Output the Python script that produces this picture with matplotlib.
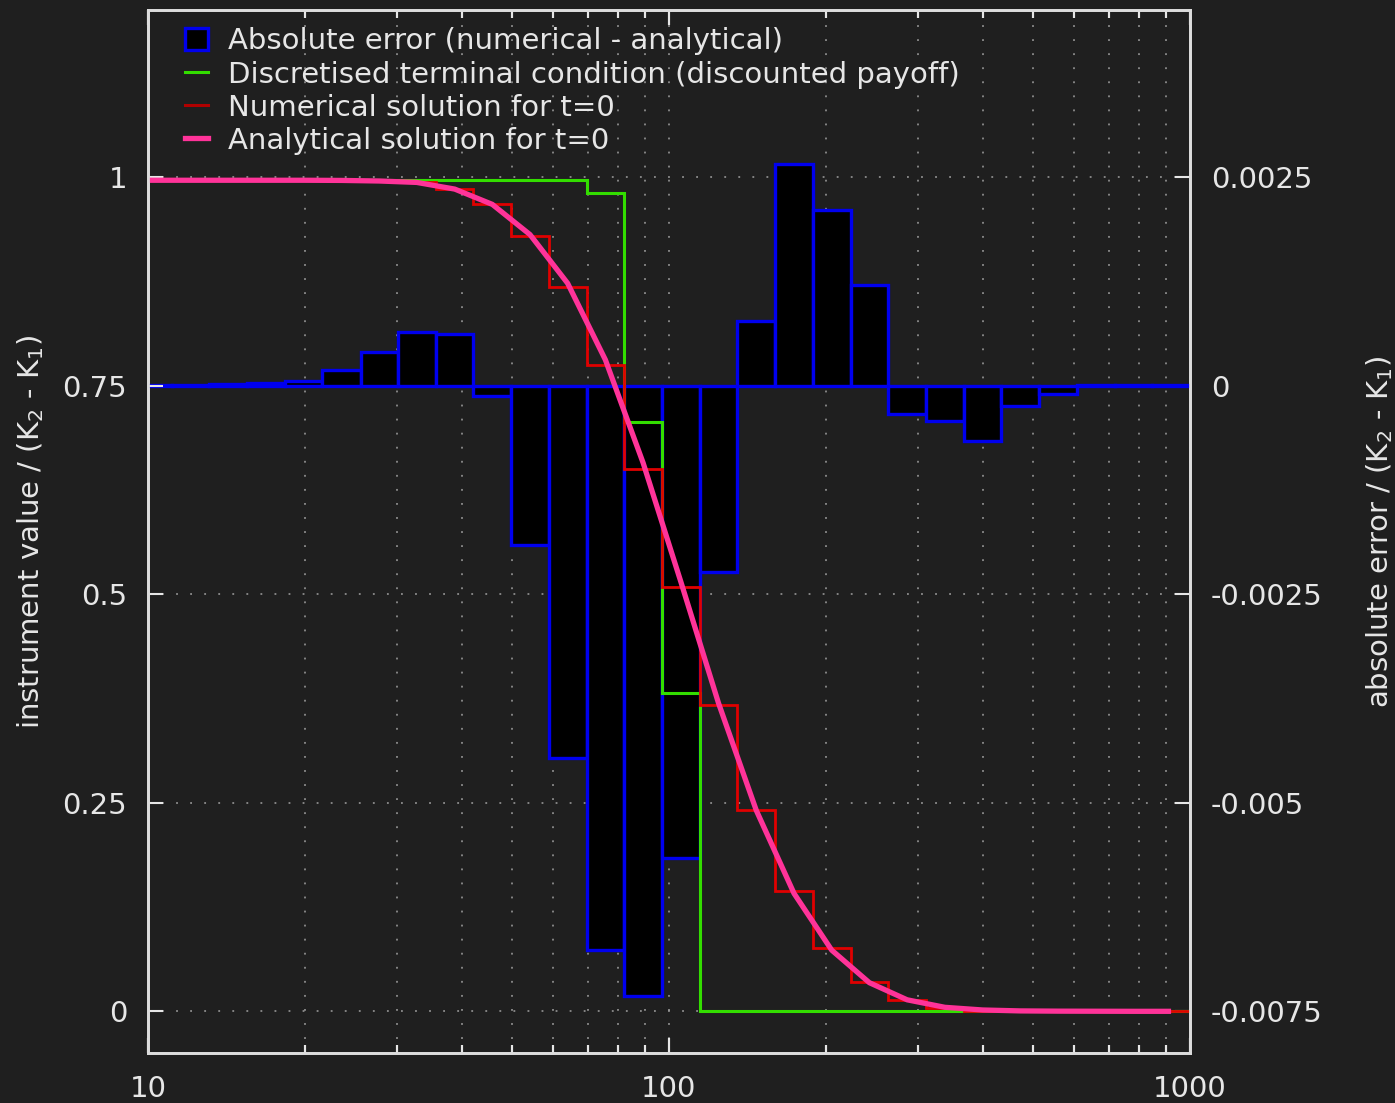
import numpy as np
import matplotlib
matplotlib.use('Agg')
import matplotlib.pyplot as plt
from matplotlib.patches import Patch
from matplotlib.lines import Line2D
from matplotlib.ticker import FixedLocator, FixedFormatter, LogLocator, NullFormatter

# cell edges of the (log-uniform) grid
edges = [7.9, 9.4, 11.1, 13.1, 15.5, 18.3, 21.6, 25.6, 30.2, 35.7, 42.1, 49.8, 58.8,
         69.5, 82.1, 97.0, 114.6, 135.3, 159.9, 188.9, 223.1, 263.6, 311.4, 367.9,
         434.6, 513.4, 606.5, 716.5, 846.5, 1000.0]
# cell centres (where the analytical solution is evaluated)
centres = [8.7, 10.2, 12.1, 14.3, 16.8, 19.9, 23.5, 27.8, 32.8, 38.8, 45.8, 54.1, 63.9,
           75.5, 89.2, 105.4, 124.5, 147.1, 173.8, 205.3, 242.5, 286.5, 338.5, 400,
           472, 558, 659, 779, 920]

abs_error = [0.000002, 0.000003, 0.00001, 0.00002, 0.00003, 0.00006, 0.00018, 0.00040,
             0.00064, 0.00062, -0.00012, -0.00191, -0.00447, -0.00677, -0.00732,
             -0.00566, -0.00223, 0.00077, 0.00266, 0.00210, 0.00121, -0.00034, -0.00043,
             -0.00067, -0.00025, -0.00010, 0.000002, 0.000001, 0.000001]
terminal = [0.996] * 13 + [0.981, 0.706, 0.382] + [0.0] * 13
numerical = [0.996, 0.996, 0.996, 0.996, 0.996, 0.996, 0.996, 0.9955, 0.994, 0.986,
             0.967, 0.929, 0.868, 0.774, 0.650, 0.509, 0.367, 0.2416, 0.144, 0.0754,
             0.0355, 0.0135, 0.0044, 0.0009, 0.0003, 0.0001, 0, 0, 0]
analytical = [0.996, 0.996, 0.996, 0.996, 0.996, 0.996, 0.9958, 0.9951, 0.9934, 0.9854,
              0.9671, 0.9309, 0.8725, 0.7808, 0.6573, 0.5147, 0.3692, 0.2408, 0.1413,
              0.0733, 0.0343, 0.0138, 0.0048, 0.0016, 0.0005, 0.0002, 0.0001, 0, 0]

left_ticks = [0, 0.25, 0.5, 0.75, 1]
left_labels = ['0', '0.25', '0.5', '0.75', '1']
right_ticks = [-0.0075, -0.005, -0.0025, 0, 0.0025]
right_labels = ['-0.0075', '-0.005', '-0.0025', '0', '0.0025']

bg = '#1f1f1f'
fg = '#e6e6e6'
plt.rcParams['font.family'] = ['DejaVu Sans']
plt.rcParams['font.size'] = 21

fig = plt.figure(figsize=(13.95, 11.03), dpi=100, facecolor=bg)
ax = fig.add_axes([0.1061, 0.0453, 0.7469, 0.9456])
ax_err = ax.twinx()
ax_err.xaxis.set_visible(True)
ax.set_zorder(2)
ax.patch.set_visible(False)
ax_err.set_facecolor(bg)

# error boxes on the right axis
edges_a = np.array(edges)
ax_err.bar(edges_a[:-1], abs_error, width=np.diff(edges_a), align='edge',
           color='black', edgecolor='#0000ee', linewidth=2.4, zorder=3)
ax_err.set_xscale('log')
ax_err.set_ylim(-0.008, 0.0045)
ax_err.set_axisbelow(True)
ax_err.grid(True, which='both', axis='x', color='#a0a0a0', linestyle=(0, (1.2, 8)), linewidth=1.1)
ax_err.grid(True, which='major', axis='y', color='#a0a0a0', linestyle=(0, (1.2, 8)), linewidth=1.1)
ax_err.yaxis.set_major_locator(FixedLocator(right_ticks))
ax_err.yaxis.set_major_formatter(FixedFormatter(right_labels))
ax_err.set_ylabel('absolute error / (K$_2$ - K$_1$)', color=fg, labelpad=30)

# solutions on the left axis
ax.stairs(terminal, edges, baseline=None, color='#33dd00', linewidth=2.2)
ax.stairs(numerical, edges, baseline=None, color='#e00000', linewidth=2.0)
ax.plot(centres, analytical, color='#ff3399', linewidth=3.8, solid_capstyle='butt')

ax.set_xscale('log')
ax.set_xlim(10, 1000)
ax.set_ylim(-0.05, 1.2)
ax.yaxis.set_major_locator(FixedLocator(left_ticks))
ax.yaxis.set_major_formatter(FixedFormatter(left_labels))
ax.set_ylabel('instrument value / (K$_2$ - K$_1$)', color=fg, labelpad=12)

for a in (ax, ax_err):
    a.xaxis.set_major_locator(FixedLocator([10, 100, 1000]))
    a.xaxis.set_major_formatter(FixedFormatter(['10', '100', '1000']))
    a.xaxis.set_minor_locator(LogLocator(base=10, subs=np.arange(2, 10)))
    a.xaxis.set_minor_formatter(NullFormatter())
    a.tick_params(which='both', direction='in', colors=fg, top=True, width=1.5)
    a.tick_params(which='major', length=11)
    a.tick_params(which='minor', length=6)
    a.tick_params(axis='x', which='major', pad=15.5)
    a.tick_params(axis='y', which='major', pad=15)
    for s in a.spines.values():
        s.set_color('#dcdcdc')
        s.set_linewidth(2)
ax.tick_params(axis='y', right=False)
ax_err.tick_params(axis='y', left=False)
ax_err.tick_params(axis='x', labelbottom=False)

handles = [Patch(facecolor='black', edgecolor='#0000ee', linewidth=2.4),
           Line2D([], [], color='#33dd00', linewidth=2.2),
           Line2D([], [], color='#b00000', linewidth=2.2),
           Line2D([], [], color='#ff3399', linewidth=3.8)]
labels = ['Absolute error (numerical - analytical)',
          'Discretised terminal condition (discounted payoff)',
          'Numerical solution for t=0',
          'Analytical solution for t=0']
leg = ax.legend(handles, labels, loc='upper left', bbox_to_anchor=(0.0156, 1.003),
                frameon=False, handlelength=0.8, handleheight=0.8, handletextpad=0.69,
                labelspacing=0.18, borderaxespad=0.3)
for t in leg.get_texts():
    t.set_color(fg)

fig.savefig('out.png', dpi=100, facecolor=bg)
